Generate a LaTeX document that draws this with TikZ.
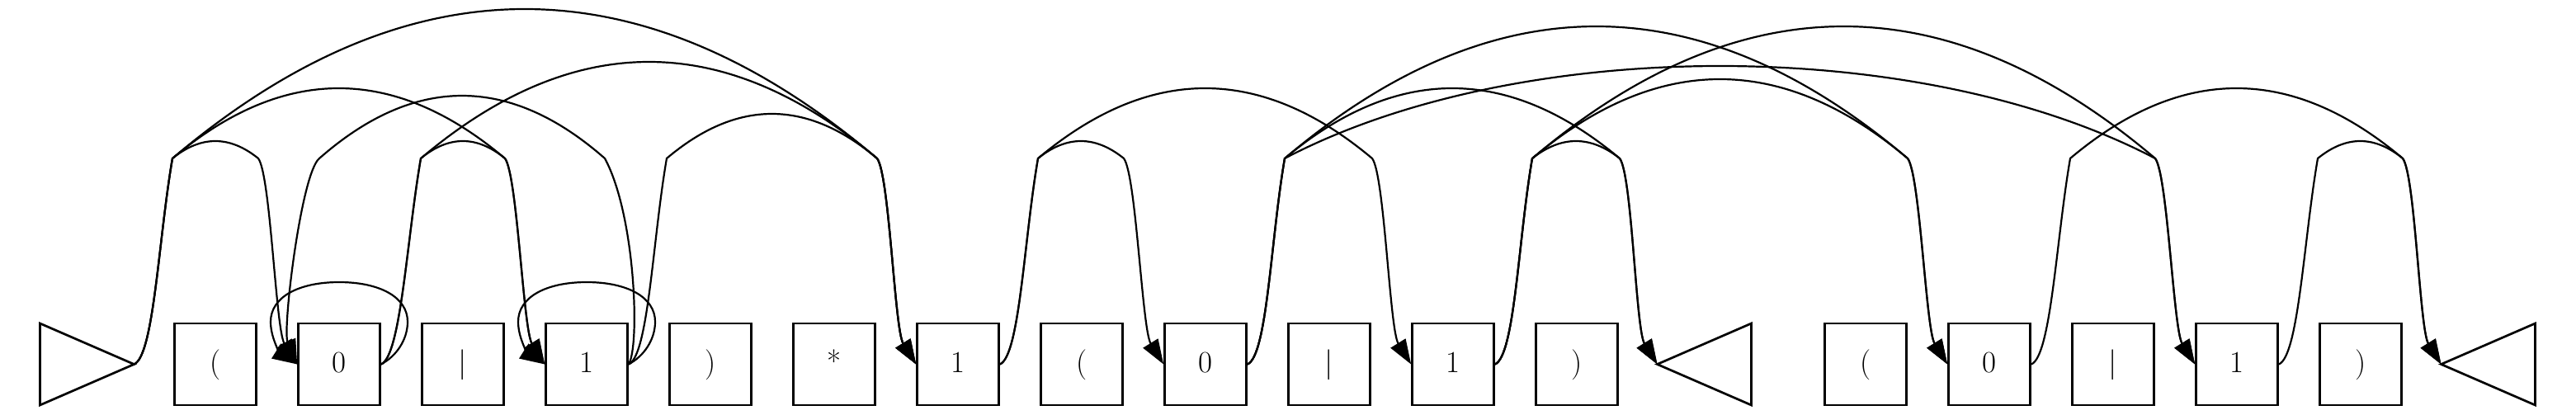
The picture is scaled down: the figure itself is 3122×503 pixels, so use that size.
\documentclass[tikz,border=0pt]{standalone}
\usetikzlibrary{arrows.meta,calc}
\newcommand\arcedge[6]{%
  \pgfmathsetmacro\cA{#3+#6*(#4-#3)}%
  \pgfmathsetmacro\cB{#4-#6*(#4-#3)}%
  \pgfmathsetmacro\cY{192-4*#5/3}%
  \pgfmathsetmacro\cU{#3-17}%
  \pgfmathsetmacro\cD{#4+15}%
  \draw[edge] (#1.east) .. controls ($(#1.east)+(24,-10)$) and (\cU,290) .. (#3,192)
    .. controls (\cA,\cY) and (\cB,\cY) .. (#4,192)
    .. controls (\cD,212) and ($(#2.west)+(-26,-42)$) .. (#2.west);
}
\begin{document}
\begin{tikzpicture}[x=1pt,y=-1pt,
  box/.style={draw,line width=2.7pt,minimum width=99pt,minimum height=99pt,inner sep=0pt,
    text height=28pt,text depth=8pt,font=\fontsize{37}{40}\selectfont},
  tri/.style={minimum width=114pt,minimum height=99pt,inner sep=0pt,outer sep=0pt},
  triline/.style={line width=2.7pt},
  edge/.style={line width=2.2pt,-{Triangle[length=30pt,width=21pt]}}]
\useasboundingbox (0,0) rectangle (3122,503);
% nodes
\node[tri] (start) at (105.5,441.5) {};
\draw[triline] (start.north west) -- (start.east) -- (start.south west) -- cycle;
\node[box] (p1) at (261,441.5) {(};
\node[box] (a0) at (411,441.5) {0};
\node[box] (p2) at (561,441.5) {|};
\node[box] (a1) at (711,441.5) {1};
\node[box] (p3) at (861,441.5) {)};
\node[box] (st) at (1011,441.5) {*};
\node[box] (b1) at (1161,441.5) {1};
\node[box] (p4) at (1311,441.5) {(};
\node[box] (c0) at (1461,441.5) {0};
\node[box] (p5) at (1611,441.5) {|};
\node[box] (c1) at (1761,441.5) {1};
\node[box] (p6) at (1911,441.5) {)};
\node[tri] (end1) at (2065.5,441.5) {};
\draw[triline] (end1.north east) -- (end1.west) -- (end1.south east) -- cycle;
\node[box] (p7) at (2261,441.5) {(};
\node[box] (d0) at (2411,441.5) {0};
\node[box] (p8) at (2561,441.5) {|};
\node[box] (d1) at (2711,441.5) {1};
\node[box] (p9) at (2861,441.5) {)};
\node[tri] (end2) at (3015.5,441.5) {};
\draw[triline] (end2.north east) -- (end2.west) -- (end2.south east) -- cycle;
% edges
\arcedge{start}{a0}{209}{313}{21}{0.3333}
\arcedge{start}{a1}{209}{612}{85}{0.3333}
\arcedge{start}{b1}{209}{1063}{181}{0.3333}
\arcedge{a0}{a1}{510}{612}{21}{0.3333}
\arcedge{a0}{b1}{510}{1063}{117}{0.3333}
\arcedge{a1}{b1}{808}{1063}{54}{0.3333}
\arcedge{b1}{c0}{1258}{1362}{21}{0.3333}
\arcedge{b1}{c1}{1258}{1663}{85}{0.3333}
\arcedge{c0}{end1}{1557}{1963}{85}{0.3333}
\arcedge{c0}{d0}{1557}{2312}{160}{0.3333}
\arcedge{c0}{d1}{1557}{2612}{112}{0.27}
\arcedge{c1}{end1}{1857}{1963}{21}{0.3333}
\arcedge{c1}{d0}{1857}{2312}{96}{0.3333}
\arcedge{c1}{d1}{1857}{2612}{160}{0.3333}
\arcedge{d0}{end2}{2509}{2912}{85}{0.3333}
\arcedge{d1}{end2}{2809}{2912}{21}{0.3333}
% backward edge 1 -> 0
\draw[edge] (a1.east) .. controls ($(a1.east)+(14,-22)$) and (770,260) .. (733,192)
  .. controls (617.7,90.7) and (502.3,90.7) .. (387,192)
  .. controls (365,210) and ($(a0.west)+(-18,-42)$) .. (a0.west);
% self loops
\draw[edge] (a0.east) .. controls (480,432) and (494,412) .. (494,390)
  .. controls (494,360) and (460,342) .. (411,342)
  .. controls (362,342) and (328,360) .. (328,390)
  .. controls (328,412) and (342,430) .. (a0.west);
\draw[edge] (a1.east) .. controls (780,432) and (794,412) .. (794,390)
  .. controls (794,360) and (760,342) .. (711,342)
  .. controls (662,342) and (628,360) .. (628,390)
  .. controls (628,412) and (642,430) .. (a1.west);
\end{tikzpicture}
\end{document}
